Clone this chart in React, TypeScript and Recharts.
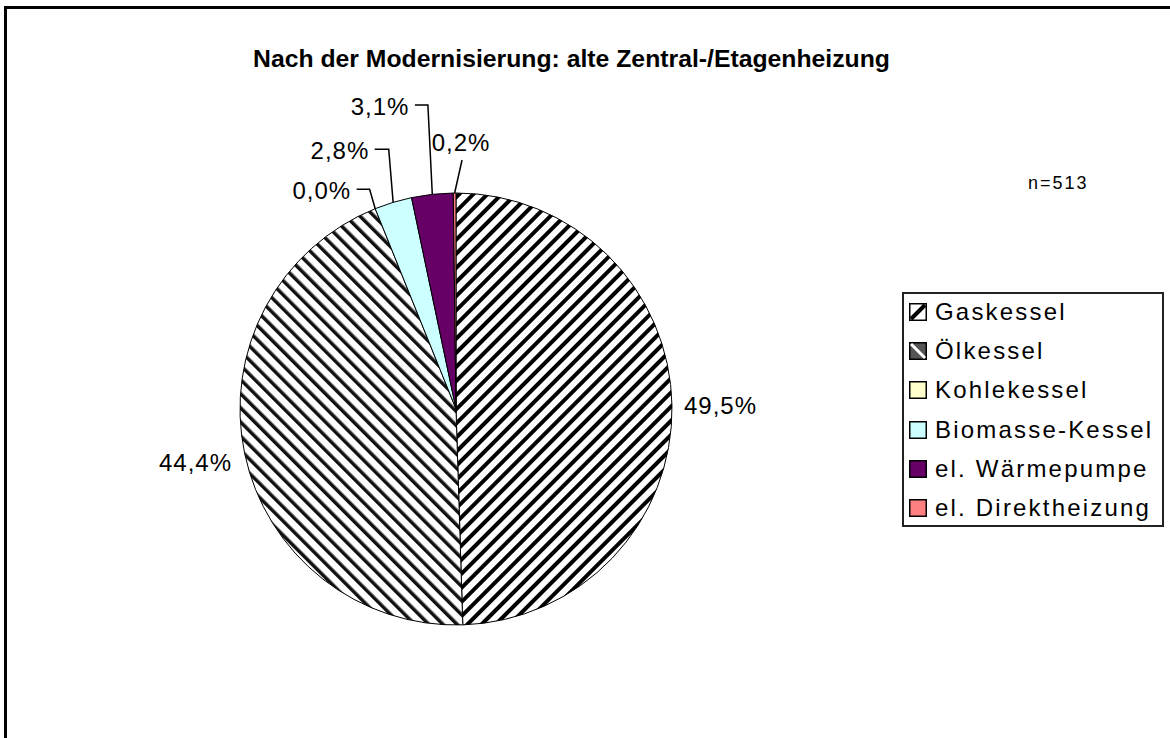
import React from 'react';
import { PieChart, Pie, Cell, Legend } from 'recharts';

const categories = ['Gaskessel', 'Ölkessel', 'Kohlekessel', 'Biomasse-Kessel', 'el. Wärmepumpe', 'el. Direktheizung'];
const shares = [49.5, 44.4, 0.0, 2.8, 3.1, 0.2];
const shareLabels = ['49,5%', '44,4%', '0,0%', '2,8%', '3,1%', '0,2%'];
const sliceFills = ['url(#hatchGas)', 'url(#hatchOil)', '#FFFFCC', '#CCFFFF', '#660066', '#FF8080'];
const titleText = 'Nach der Modernisierung: alte Zentral-/Etagenheizung';
const sampleNote = 'n=513';

const data = categories.map((name, i) => ({ name, value: shares[i] }));

const FONT = 'Arial, "Liberation Sans", sans-serif';
const RAD = Math.PI / 180;

// leader layout for the small slices, relative to the slice's outer edge point
const leaderLayout: ({ ex: number; ey: number; h: number } | null)[] = [
  null,
  null,
  { ex: -5.6, ey: -19.3, h: -13 },
  { ex: -4.4, ey: -53, h: -14 },
  { ex: -4.4, ey: -89.3, h: -13 },
  { ex: 7.4, ey: -33, h: 0 },
];

const labelStyle: React.CSSProperties = { fontFamily: FONT, fontSize: 24, letterSpacing: 1, fill: '#000' };

const renderLabel = (props: any) => {
  const { cx, cy, midAngle, outerRadius, index } = props;
  const px = cx + outerRadius * Math.cos(-midAngle * RAD);
  const py = cy + outerRadius * Math.sin(-midAngle * RAD);
  const text = shareLabels[index];
  if (index === 0) {
    return (
      <text x={px + 12} y={py} dominantBaseline="central" textAnchor="start" style={labelStyle}>{text}</text>
    );
  }
  if (index === 1) {
    return (
      <text x={px - 12.6} y={py + 9} dominantBaseline="central" textAnchor="end" style={labelStyle}>{text}</text>
    );
  }
  const l = leaderLayout[index];
  if (!l) return null;
  const bx = px + l.ex;
  const by = py + l.ey;
  if (l.h === 0) {
    return (
      <g>
        <polyline points={`${px},${py} ${bx},${by}`} fill="none" stroke="#000" strokeWidth={1.5} />
        <text x={bx - 1} y={by - 18} dominantBaseline="central" textAnchor="middle" style={labelStyle}>{text}</text>
      </g>
    );
  }
  const hx = bx + l.h;
  return (
    <g>
      <polyline points={`${px},${py} ${bx},${by} ${hx},${by}`} fill="none" stroke="#000" strokeWidth={1.5} />
      <text x={hx - 5.5} y={by + 1} dominantBaseline="central" textAnchor="end" style={labelStyle}>{text}</text>
    </g>
  );
};

const Swatch = ({ i }: { i: number }) => {
  if (i === 0) {
    return (
      <svg width={18} height={18} style={{ display: 'block' }}>
        <rect x={0.75} y={0.75} width={16.5} height={16.5} fill="#fff" stroke="#000" strokeWidth={1.5} />
        <line x1={2} y1={16} x2={16} y2={2} stroke="#000" strokeWidth={4} />
      </svg>
    );
  }
  if (i === 1) {
    return (
      <svg width={18} height={18} style={{ display: 'block' }}>
        <rect x={0.75} y={0.75} width={16.5} height={16.5} fill="#555" stroke="#000" strokeWidth={1.5} />
        <line x1={2} y1={2} x2={16} y2={16} stroke="#fff" strokeWidth={3} />
      </svg>
    );
  }
  return (
    <svg width={18} height={18} style={{ display: 'block' }}>
      <rect x={0.75} y={0.75} width={16.5} height={16.5} fill={sliceFills[i]} stroke="#000" strokeWidth={1.5} />
    </svg>
  );
};

const LegendBox = () => (
  <div
    style={{
      position: 'relative',
      width: 262,
      height: 235,
      boxSizing: 'border-box',
      border: '2px solid #222',
      background: '#fff',
    }}
  >
    {categories.map((name, i) => (
      <div
        key={name}
        style={{
          position: 'absolute',
          left: 5,
          top: -2 + 39.3 * i,
          height: 39.3,
          display: 'flex',
          alignItems: 'center',
          whiteSpace: 'nowrap',
        }}
      >
        <Swatch i={i} />
        <span style={{ marginLeft: 8, fontFamily: FONT, fontSize: 24, letterSpacing: 2.2, lineHeight: 1, color: '#000' }}>
          {name}
        </span>
      </div>
    ))}
  </div>
);

export default function App() {
  return (
    <div style={{ position: 'absolute', left: 0, top: 0, width: 1170, height: 738, overflow: 'hidden', background: '#fff' }}>
      <div style={{ position: 'absolute', left: 4, top: 6, width: 1300, height: 900, border: '3px solid #000' }} />
      <div style={{ position: 'absolute', left: 0, top: 0 }}>
        <PieChart width={1170} height={738} margin={{ top: 0, right: 0, bottom: 0, left: 0 }}>
          <defs>
            <pattern id="hatchGas" patternUnits="userSpaceOnUse" width={10} height={10} patternTransform="rotate(45)">
              <rect width={10} height={10} fill="#fff" />
              <rect width={4} height={10} fill="#000" />
            </pattern>
            <pattern id="hatchOil" patternUnits="userSpaceOnUse" width={10} height={10} patternTransform="rotate(-45)">
              <rect width={10} height={10} fill="#fff" />
              <rect width={3.5} height={10} fill="#111" />
            </pattern>
          </defs>
          <text
            x={253}
            y={58}
            dominantBaseline="central"
            textLength={637}
            lengthAdjust="spacingAndGlyphs"
            style={{ fontFamily: FONT, fontSize: 24, fontWeight: 'bold', fill: '#000' }}
          >
            {titleText}
          </text>
          <text
            x={1028}
            y={183}
            dominantBaseline="central"
            style={{ fontFamily: FONT, fontSize: 18, letterSpacing: 2, fill: '#000' }}
          >
            {sampleNote}
          </text>
          <Pie
            data={data}
            dataKey="value"
            nameKey="name"
            cx={456}
            cy={409}
            outerRadius={216}
            innerRadius={0}
            startAngle={90}
            endAngle={-270}
            stroke="#000"
            strokeWidth={1}
            label={renderLabel}
            labelLine={false}
            isAnimationActive={false}
          >
            {data.map((d, i) => (
              <Cell key={d.name} fill={sliceFills[i]} />
            ))}
          </Pie>
          <Legend
            layout="horizontal"
            verticalAlign="middle"
            align="center"
            wrapperStyle={{ left: 902, top: 292, width: 262, height: 235 }}
            content={() => <LegendBox />}
          />
        </PieChart>
      </div>
    </div>
  );
}
